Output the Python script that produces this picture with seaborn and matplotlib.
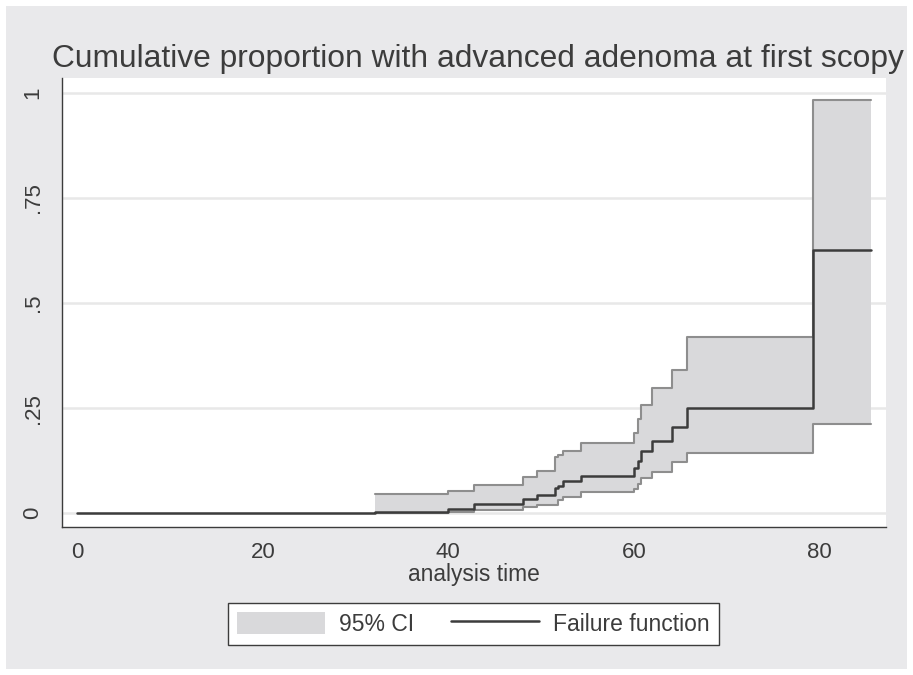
import numpy as np
import pandas as pd
import matplotlib
matplotlib.use("Agg")
import matplotlib.pyplot as plt
import seaborn as sns
from matplotlib.patches import Patch, Rectangle
from matplotlib.lines import Line2D

# ---- data ----
times = [0, 32.1, 40.0, 42.8, 48.0, 49.6, 51.5, 51.8, 52.4, 54.3, 60.0, 60.5, 60.8, 62.0, 64.1, 65.7, 79.3, 85.6]
failure = [0, 0.004, 0.010, 0.022, 0.033, 0.044, 0.060, 0.066, 0.077, 0.089, 0.107, 0.124, 0.147, 0.172, 0.206, 0.251, 0.625, 0.625]
lower = [np.nan, 0.001, 0.004, 0.008, 0.014, 0.020, 0.020, 0.032, 0.038, 0.051, 0.058, 0.070, 0.083, 0.099, 0.121, 0.144, 0.212, 0.212]
upper = [np.nan, 0.046, 0.054, 0.068, 0.086, 0.101, 0.135, 0.138, 0.149, 0.168, 0.192, 0.225, 0.257, 0.297, 0.341, 0.418, 0.983, 0.983]
x_ticks = [0, 20, 40, 60, 80]
y_ticks = [0, 0.25, 0.5, 0.75, 1]
y_tick_labels = ["0", ".25", ".5", ".75", "1"]
title = "Cumulative proportion with advanced adenoma at first scopy"
x_label = "analysis time"
legend_labels = ["95% CI", "Failure function"]

df = pd.DataFrame({"time": times, "failure": failure, "lower": lower, "upper": upper})
ci = df.dropna()

sns.set_style("white")
plt.rcParams["font.family"] = ["Liberation Sans", "DejaVu Sans"]

W, H = 913, 675
fig = plt.figure(figsize=(W / 100, H / 100), dpi=100, facecolor="white")
# gray graph region
fig.patches.append(Rectangle((6 / W, 6 / H), (907 - 6) / W, (669 - 6) / H,
                             transform=fig.transFigure, facecolor="#e9e9eb",
                             edgecolor="none", zorder=-10))

ax = fig.add_axes([62.3 / W, 1 - 527.3 / H, (885.7 - 62.3) / W, (527.3 - 78.3) / H])
ax.set_facecolor("white")

dark = "#3c3c3c"
ci_line = "#8e8e8e"
ci_fill = "#d9d9db"

for y in y_ticks:
    ax.axhline(y, color="#e8e8e8", lw=1.8, zorder=0.5)

ax.fill_between(ci["time"], ci["lower"], ci["upper"], step="post",
                color=ci_fill, lw=0, zorder=1)
sns.lineplot(data=ci, x="time", y="upper", drawstyle="steps-post", estimator=None,
             color=ci_line, lw=1.5, ax=ax, zorder=2)
sns.lineplot(data=ci, x="time", y="lower", drawstyle="steps-post", estimator=None,
             color=ci_line, lw=1.5, ax=ax, zorder=2)
sns.lineplot(data=df, x="time", y="failure", drawstyle="steps-post", estimator=None,
             color=dark, lw=1.8, ax=ax, zorder=3)

ax.set_xlim(-15.0 / 9.275, (885.7 - 77.3) / 9.275)
ax.set_ylim(-14.0 / 420.6, (513.3 - 78.3) / 420.6)

ax.set_xticks(x_ticks)
ax.set_xticklabels([str(t) for t in x_ticks])
ax.set_yticks(y_ticks)
ax.set_yticklabels(y_tick_labels, rotation=90, va="center")

for s in ["top", "right"]:
    ax.spines[s].set_visible(False)
for s in ["left", "bottom"]:
    ax.spines[s].set_color(dark)
    ax.spines[s].set_linewidth(1.0)

ax.tick_params(axis="both", direction="out", length=6.5, width=1.0, color=dark,
               labelsize=16, labelcolor=dark)
ax.tick_params(axis="x", pad=4)
ax.tick_params(axis="y", pad=7)
ax.set_xlabel(x_label, fontsize=16.4, color=dark, labelpad=0)
ax.set_ylabel("")

fig.text(0.523, 1 - 67 / H, title, ha="center", va="baseline", fontsize=22.9, color=dark)

handles = [Patch(facecolor=ci_fill, edgecolor="none"),
           Line2D([], [], color=dark, lw=1.8)]
leg = fig.legend(handles, legend_labels,
                 loc="center", bbox_to_anchor=(473.3 / W, 1 - 623.7 / H),
                 ncol=2, fontsize=16.5, frameon=True, fancybox=False,
                 handlelength=3.85, handleheight=1.08, handletextpad=0.6,
                 columnspacing=1.6, borderpad=0.4)
leg.get_frame().set_edgecolor(dark)
leg.get_frame().set_linewidth(1.0)
leg.get_frame().set_facecolor("white")
leg.get_frame().set_alpha(1)
for t in leg.get_texts():
    t.set_color(dark)

fig.savefig("out.png", dpi=100, facecolor="white")
